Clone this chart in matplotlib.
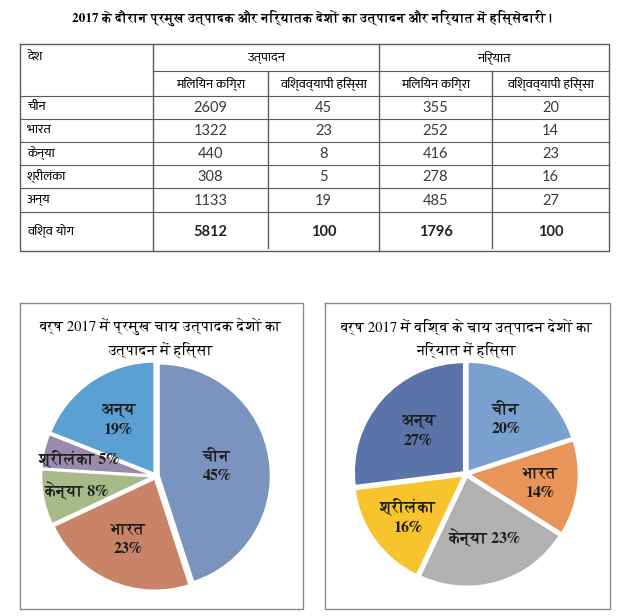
import matplotlib
matplotlib.use("Agg")
import matplotlib.pyplot as plt
import numpy as np

# fonts
SERIF = ["FreeSerif", "DejaVu Serif"]
SANS = ["Ek Mukta", "FreeSans", "DejaVu Sans"]
NUM = ["Lato", "Ek Mukta", "DejaVu Sans"]

# table data
countries = ["चीन", "भारत", "केन्या", "श्रीलंका", "अन्य"]
prod_mkg = [2609, 1322, 440, 308, 1133]
prod_share = [45, 23, 8, 5, 19]
exp_mkg = [355, 252, 416, 278, 485]
exp_share = [20, 14, 23, 16, 27]
total_label = "विश्व योग"
prod_total = [5812, 100]
exp_total = [1796, 100]

title_main = "2017 के दौरान प्रमुख उत्पादक और निर्यातक देशों का उत्पादन और निर्यात में हिस्सेदारी।"
head_country = "देश"
head_prod = "उत्पादन"
head_exp = "निर्यात"
sub_heads = ["मिलियन किग्रा", "विश्वव्यापी हिस्सा", "मिलियन किग्रा", "विश्वव्यापी हिस्सा"]

# pie data
pie1_title = "वर्ष 2017 में प्रमुख चाय उत्पादक देशों का\nउत्पादन में हिस्सा"
pie1_labels = ["चीन\n45%", "भारत\n23%", "केन्या 8%", "श्रीलंका 5%", "अन्य\n19%"]
pie1_values = [45, 23, 8, 5, 19]
pie1_colors = ["#7b93bf", "#c98468", "#a9ba8a", "#9a8aab", "#5aa0d2"]
pie1_lr = [0.55, 0.62, 0.72, 0.70, 0.60]

pie2_title = "वर्ष 2017 में विश्व के चाय उत्पादन देशों का\nनिर्यात में हिस्सा"
pie2_labels = ["चीन\n20%", "भारत\n14%", "केन्या 23%", "श्रीलंका\n16%", "अन्य\n27%"]
pie2_values = [20, 14, 23, 16, 27]
pie2_colors = ["#79a0cf", "#e9955a", "#b1b1b1", "#f8c42e", "#5a74aa"]
pie2_lr = [0.62, 0.68, 0.60, 0.65, 0.58]

W, H = 619, 616
fig = plt.figure(figsize=(W / 100, H / 100), dpi=100)
bg = fig.add_axes([0, 0, 1, 1])
bg.set_xlim(0, W)
bg.set_ylim(H, 0)
bg.axis("off")

line_c = "#5a5a5a"

# main title
bg.text(312, 18, title_main, ha="center", va="center", fontsize=9.5,
        family=SERIF, fontweight="bold")

# table grid
x0, x1, x2, x3, x4, x5 = 20, 153, 268, 379, 492, 609
y_top, y_sub, y_head, y_bot = 44, 71, 96, 251
row_lines = [119, 142, 165, 188, 212]
bg.plot([x0, x5, x5, x0, x0], [y_top, y_top, y_bot, y_bot, y_top], color=line_c, lw=1)
for x in [x1, x3]:
    bg.plot([x, x], [y_top, y_bot], color=line_c, lw=1)
for x in [x2, x4]:
    bg.plot([x, x], [y_sub, y_bot - 3], color=line_c, lw=1)
bg.plot([x1, x5], [y_sub, y_sub], color=line_c, lw=0.8)
for y in [y_head] + row_lines:
    bg.plot([x0, x5], [y, y], color=line_c, lw=0.8)

bg.text(27, 57, head_country, ha="left", va="center", fontsize=9.5, family=SANS)
bg.text((x1 + x3) / 2, 58, head_prod, ha="center", va="center", fontsize=9.5, family=SANS)
bg.text((x3 + x5) / 2, 58, head_exp, ha="center", va="center", fontsize=9.5, family=SANS)
col_cx = [(x1 + x2) / 2, (x2 + x3) / 2, (x3 + x4) / 2, (x4 + x5) / 2]
for cx, s in zip(col_cx, sub_heads):
    bg.text(cx, 84, s, ha="center", va="center", fontsize=9.5, family=SANS)

row_y = [107, 130, 153, 176, 200]
for i, name in enumerate(countries):
    y = row_y[i]
    bg.text(27, y, name, ha="left", va="center", fontsize=9.5, family=SANS)
    vals = [prod_mkg[i], prod_share[i], exp_mkg[i], exp_share[i]]
    for cx, v in zip(col_cx, vals):
        bg.text(cx, y + 1, str(v), ha="center", va="center", fontsize=10.5,
                family=NUM, color="#3a3a3a")
bg.text(27, 231, total_label, ha="left", va="center", fontsize=9.5, family=SANS)
for cx, v in zip(col_cx, prod_total + exp_total):
    bg.text(cx, 232, str(v), ha="center", va="center", fontsize=10.5,
            family=NUM, fontweight="bold", color="#222222")

# pie panel frames
for (a, b) in [(20, 303), (325, 610)]:
    bg.plot([a, b, b, a, a], [303, 303, 609, 609, 303], color="#8a8a8a", lw=1)

bg.text(161, 318, pie1_title, ha="center", va="top", fontsize=10.5,
        family=SERIF, linespacing=1.45)
bg.text(467, 318, pie2_title, ha="center", va="top", fontsize=10.5,
        family=SERIF, linespacing=1.45)


def draw_pie(cx, cy, r, values, colors, labels, lr):
    lim = 1.2
    size = 2 * lim * r
    ax = fig.add_axes([(cx - lim * r) / W, (H - cy - lim * r) / H, size / W, size / H])
    wedges, _ = ax.pie(values, colors=colors, startangle=90, counterclock=False,
                       explode=[0.025] * len(values),
                       wedgeprops=dict(edgecolor="white", linewidth=1.5))
    for w, lab, rr in zip(wedges, labels, lr):
        ang = np.deg2rad((w.theta1 + w.theta2) / 2)
        ax.text(rr * np.cos(ang), rr * np.sin(ang), lab, ha="center", va="center",
                fontsize=11.5, fontweight="bold", family=SERIF, color="#1e1e1e",
                linespacing=1.45)
    ax.set_xlim(-lim, lim)
    ax.set_ylim(-lim, lim)
    ax.set_aspect("equal")
    ax.axis("off")


draw_pie(156, 476, 112, pie1_values, pie1_colors, pie1_labels, pie1_lr)
draw_pie(466, 474, 110, pie2_values, pie2_colors, pie2_labels, pie2_lr)

fig.savefig("out.png", dpi=100)
